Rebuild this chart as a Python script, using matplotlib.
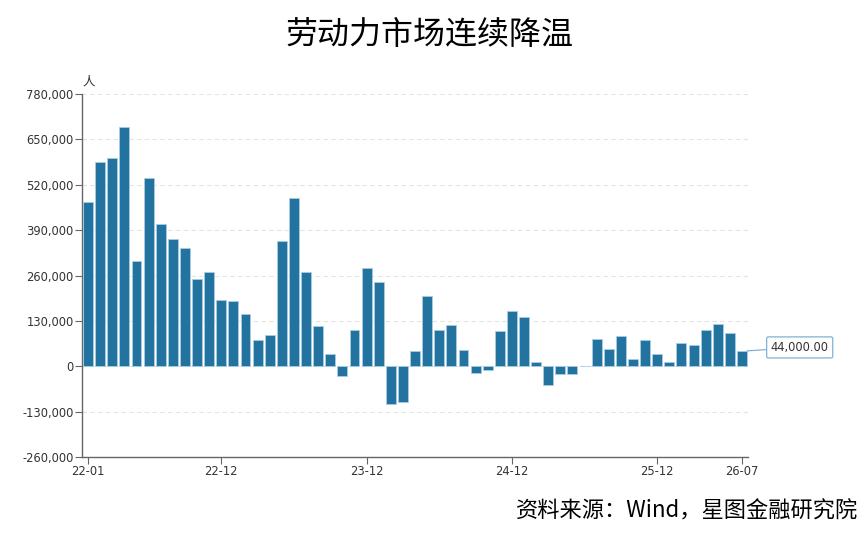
import matplotlib
matplotlib.use("Agg")
import matplotlib.pyplot as plt
import numpy as np

plt.rcParams['font.family'] = ['Noto Sans CJK SC', 'DejaVu Sans']

# monthly change, persons, 22-01 .. 26-07
values = [470000, 584000, 598000, 685000, 302000, 538000, 408000, 364000, 338000, 250000,
          269000, 191000, 187000, 150000, 75000, 90000, 359000, 482000, 269000, 115000,
          36000, -29000, 105000, 282000, 240000, -107000, -103000, 44000, 202000, 104000,
          119000, 46000, -20000, -12000, 102000, 157000, 140000, 13000, -53000, -23000,
          -23000, 0, 77000, 49000, 88000, 20000, 74000, 36000, 11000, 66000,
          61000, 105000, 122000, 96000, 44000]
tick_pos = [0, 11, 23, 35, 47, 54]
tick_labels = ['22-01', '22-12', '23-12', '24-12', '25-12', '26-07']
y_ticks = np.arange(-260000, 780001, 130000)

title = '劳动力市场连续降温'
source = '资料来源：Wind，星图金融研究院'
last_label = '44,000.00'

bar_color = '#2273a0'
axis_color = '#666666'

fig = plt.figure(figsize=(8.65, 5.36), dpi=100)
ax = fig.add_axes([0.0948, 0.1474, 0.77, 0.6772])

x = np.arange(len(values))
ax.bar(x, values, width=0.82, color=bar_color, edgecolor='#a9cde3', linewidth=0.6, zorder=3)

ax.set_xlim(-0.5, len(values) - 0.5)
ax.set_ylim(-260000, 780000)
ax.set_yticks(y_ticks)
ax.set_yticklabels(['{:,}'.format(v) if v != 0 else '0' for v in y_ticks])
ax.set_xticks(tick_pos)
ax.set_xticklabels(tick_labels)
for lab in ax.get_xticklabels() + ax.get_yticklabels():
    lab.set_fontfamily('DejaVu Sans')

ax.grid(axis='y', linestyle=(0, (4, 3)), color='#e4e4e4', linewidth=0.8, zorder=0)
for s in ['top', 'right']:
    ax.spines[s].set_visible(False)
for s in ['left', 'bottom']:
    ax.spines[s].set_color(axis_color)
    ax.spines[s].set_linewidth(1.0)
ax.tick_params(axis='both', colors=axis_color, labelcolor='#333333', labelsize=8.3,
               length=5, width=0.8)
ax.tick_params(axis='x', pad=1)
ax.tick_params(axis='y', pad=1)

ax.text(0.0, 1.015, '人', transform=ax.transAxes, fontsize=9, color='#333333',
        ha='left', va='bottom')

# label on the last bar
ax.annotate(last_label, xy=(len(values) - 1 + 0.42, values[-1]),
            xytext=(17, 2.5), textcoords='offset points', fontsize=8.3, color='#333333',
            family='DejaVu Sans', va='center', ha='left',
            bbox=dict(boxstyle='round,pad=0.35,rounding_size=0.15', fc='white', ec='#7fb3d5', lw=0.9),
            arrowprops=dict(arrowstyle='-', color='#7fb3d5', lw=0.9, shrinkA=0, shrinkB=0),
            annotation_clip=False)

fig.text(0.497, 0.935, title, fontsize=23, ha='center', va='center', color='black')
fig.text(0.992, 0.046, source, fontsize=16, ha='right', va='center', color='black')

fig.savefig('out.png', dpi=100)
